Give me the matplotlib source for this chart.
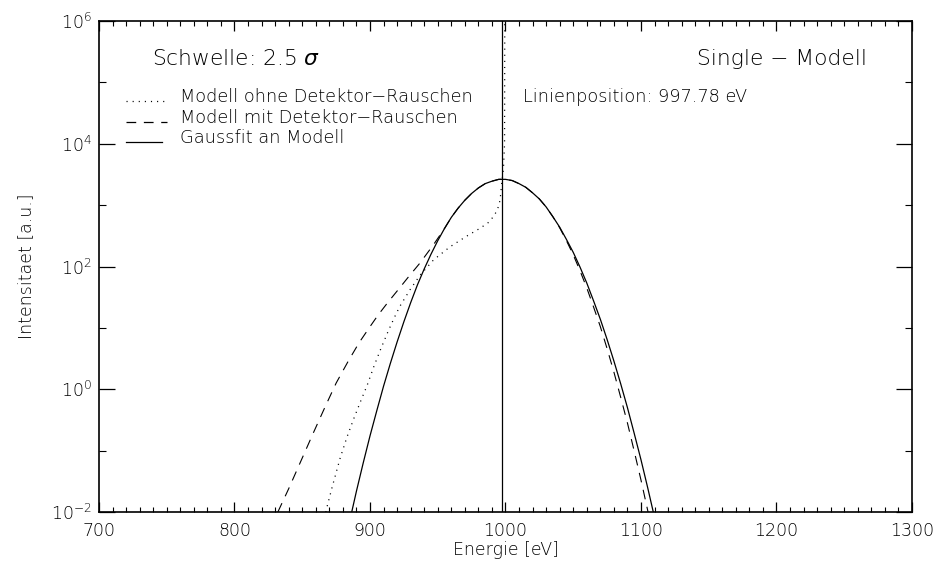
import matplotlib
matplotlib.use("Agg")
import matplotlib.pyplot as plt
import numpy as np
from matplotlib import ticker
from matplotlib.lines import Line2D

plt.rcParams["font.family"] = ["DejaVu Sans"]
plt.rcParams["font.weight"] = "light"
plt.rcParams["axes.labelweight"] = "light"
plt.rcParams["mathtext.fontset"] = "custom"
plt.rcParams["mathtext.rm"] = "DejaVu Sans:light"
plt.rcParams["mathtext.it"] = "DejaVu Sans:italic:light"
plt.rcParams["mathtext.default"] = "rm"
plt.rcParams["lines.scale_dashes"] = False

# ---- spectrum data (energy in eV, intensity as log10 of a.u.) ----
line_position = 997.78

gauss_energy = [886, 890, 895, 900, 905, 910, 915, 920, 925, 930, 935, 940,
                945, 950, 955, 960, 965, 970, 975, 980, 985, 990, 995, 1000,
                1005, 1010, 1015, 1020, 1025, 1030, 1035, 1040, 1045, 1050,
                1055, 1060, 1065, 1070, 1075, 1080, 1085, 1090, 1095, 1100,
                1105, 1110]
gauss_log10 = [-2.05, -1.66, -1.20, -0.76, -0.35, 0.05, 0.42, 0.77, 1.10,
               1.41, 1.70, 1.96, 2.20, 2.42, 2.62, 2.80, 2.95, 3.08, 3.19,
               3.28, 3.35, 3.39, 3.42, 3.42, 3.40, 3.35, 3.29, 3.20, 3.10,
               2.97, 2.81, 2.64, 2.44, 2.23, 1.99, 1.73, 1.44, 1.14, 0.81,
               0.46, 0.09, -0.30, -0.72, -1.15, -1.61, -2.09]

noisy_energy = [832, 840, 850, 858, 867, 875, 884, 892, 900, 906, 913, 920,
                928, 937, 947, 955, 960, 965, 970, 975, 980, 985, 990, 995,
                1000, 1005, 1010, 1015, 1020, 1025, 1030, 1035, 1040, 1045,
                1050, 1055, 1060, 1065, 1070, 1075, 1080, 1085, 1090, 1095,
                1100, 1105, 1108]
noisy_log10 = [-2.00, -1.62, -1.12, -0.72, -0.28, 0.10, 0.46, 0.76, 1.02,
               1.21, 1.41, 1.60, 1.82, 2.06, 2.36, 2.62, 2.80, 2.95, 3.08,
               3.19, 3.28, 3.35, 3.39, 3.42, 3.42, 3.40, 3.35, 3.29, 3.20,
               3.10, 2.97, 2.81, 2.63, 2.42, 2.19, 1.93, 1.65, 1.34, 1.02,
               0.66, 0.28, -0.13, -0.55, -1.01, -1.48, -1.98, -2.30]

clean_energy = [866.5, 868, 872, 878, 883, 888, 893, 898, 903, 908, 913.5,
                918, 922, 929.5, 937, 947, 959, 971, 981, 987, 991, 994, 996,
                997.2, 998.5, 999.3, 999.5]
clean_log10 = [-2.10, -1.94, -1.60, -1.12, -0.78, -0.48, -0.20, 0.07, 0.38,
               0.66, 0.95, 1.17, 1.35, 1.62, 1.86, 2.11, 2.32, 2.49, 2.62,
               2.71, 2.81, 2.92, 3.08, 3.35, 3.60, 4.00, 6.50]

x_major = [700, 800, 900, 1000, 1100, 1200, 1300]
y_major = [1e-2, 1e0, 1e2, 1e4, 1e6]
y_minor = [1e-1, 1e1, 1e3, 1e5]

legend_labels = ["Modell ohne Detektor\u2212Rauschen",
                 "Modell mit Detektor\u2212Rauschen",
                 "Gaussfit an Modell"]

# ---- figure ----
W, H = 936, 565
L, R, T, B = 99, 912, 21, 512
fig = plt.figure(figsize=(W / 100, H / 100), dpi=100)
ax = fig.add_axes([L / W, 1 - B / H, (R - L) / W, (B - T) / H])


def axx(px):
    return (px - L) / (R - L)


def axy(py):
    return (B - py) / (B - T)


dotted = (0, (0.8, 3.6))
dashed = (0, (7.0, 5.5))

ax.plot(clean_energy, 10 ** np.asarray(clean_log10), color="black",
        lw=0.9, linestyle=dotted)
ax.plot(noisy_energy, 10 ** np.asarray(noisy_log10), color="black",
        lw=0.8, linestyle=dashed)
ax.plot(gauss_energy, 10 ** np.asarray(gauss_log10), color="black", lw=0.9)
ax.axvline(line_position, color="black", lw=0.9)

ax.set_yscale("log")
ax.set_xlim(700, 1300)
ax.set_ylim(1e-2, 1e6)

ax.xaxis.set_major_locator(ticker.FixedLocator(x_major))
ax.xaxis.set_minor_locator(ticker.MultipleLocator(10))
ax.yaxis.set_major_locator(ticker.FixedLocator(y_major))
ax.yaxis.set_minor_locator(ticker.FixedLocator(y_minor))
ax.yaxis.set_major_formatter(ticker.LogFormatterMathtext())
ax.yaxis.set_minor_formatter(ticker.NullFormatter())

ax.tick_params(axis="x", which="major", direction="in", length=7.2,
               width=0.9, top=True, labelsize=12.5, pad=7)
ax.tick_params(axis="x", which="minor", direction="in", length=3.6,
               width=0.8, top=True)
ax.tick_params(axis="y", which="major", direction="in", length=11.5,
               width=0.9, right=True, labelsize=12.5, pad=5)
ax.tick_params(axis="y", which="minor", direction="in", length=5.0,
               width=0.8, right=True)
for s in ax.spines.values():
    s.set_linewidth(1.2)

ax.set_xlabel("Energie [eV]", fontsize=12.5)
ax.xaxis.set_label_coords(0.5, axy(550))
ax.xaxis.label.set_va("center")
ax.set_ylabel("Intensitaet [a.u.]", fontsize=12.5)
ax.yaxis.set_label_coords(axx(26), 0.5)
ax.yaxis.label.set_va("center")

ax.text(axx(152), axy(65), r"Schwelle: 2.5 $\mathit{\sigma}$",
        transform=ax.transAxes, fontsize=15.7, ha="left", va="baseline")
ax.text(axx(867), axy(65), "Single \u2212 Modell", transform=ax.transAxes,
        fontsize=15.7, ha="right", va="baseline")
ax.text(axx(523), axy(102), "Linienposition: %.2f eV" % line_position,
        transform=ax.transAxes, fontsize=12.8, ha="left", va="baseline")

key_rows = [(102, dotted, 126, 165), (123, dashed, 126, 167),
            (143, "-", 126, 162)]
for (py, ls, x0, x1), label in zip(key_rows, legend_labels):
    ax.add_line(Line2D([axx(x0), axx(x1)], [axy(py - 1), axy(py - 1)],
                       transform=ax.transAxes, color="black", lw=0.9,
                       linestyle=ls if ls != "-" else "solid"))
    ax.text(axx(180), axy(py), label, transform=ax.transAxes,
            fontsize=12.8, ha="left", va="baseline")

fig.savefig("out.png", dpi=100)
